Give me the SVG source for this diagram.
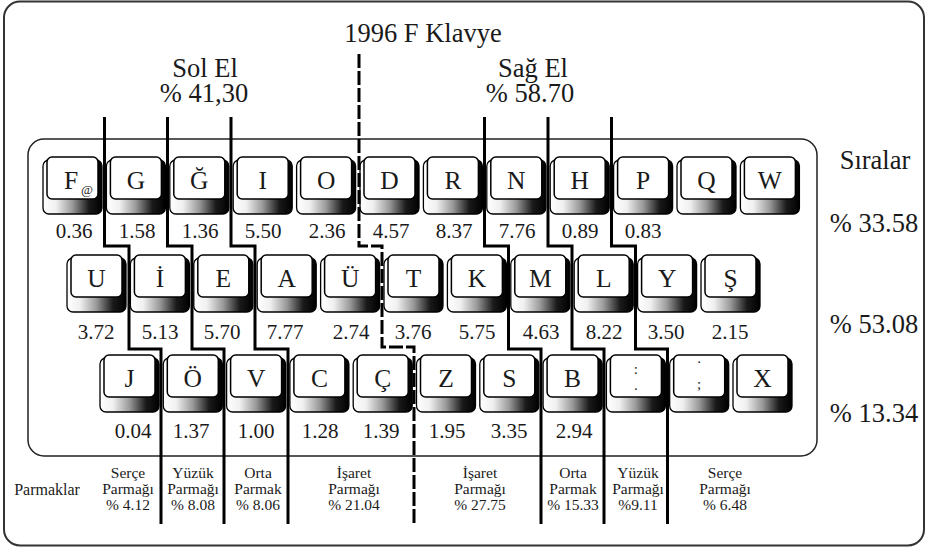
<svg xmlns="http://www.w3.org/2000/svg" width="929" height="549" viewBox="0 0 929 549">
<defs>
<linearGradient id="skirt" x1="0" y1="0" x2="1" y2="0">
<stop offset="0" stop-color="#fff"/>
<stop offset="0.22" stop-color="#f0f0f0"/>
<stop offset="0.5" stop-color="#999"/>
<stop offset="0.78" stop-color="#1a1a1a"/>
<stop offset="1" stop-color="#000"/>
</linearGradient>
<g id="cap">
<rect x="0" y="3" width="59" height="54" rx="6" fill="url(#skirt)" stroke="#000" stroke-width="1.3"/>
<rect x="4" y="0" width="51" height="42" rx="5" fill="#fff" stroke="#000" stroke-width="1.5"/>
</g>
</defs>
<style>
text{fill:#1a1a1a}
.k{font-size:25.5px;text-anchor:middle}
.n{font-size:21px;text-anchor:middle}
.h{font-size:26.5px;text-anchor:middle}
.f{font-size:15.5px;text-anchor:middle}
.s{font-size:15px;text-anchor:middle}
.ln{fill:none;stroke:#000;stroke-width:3;stroke-linejoin:miter}
.dash{stroke-dasharray:14 3}
</style>
<rect x="4" y="1.5" width="920" height="544" rx="16" fill="#fff" stroke="#333" stroke-width="2"/>
<rect x="28" y="139" width="789" height="317" rx="16" fill="none" stroke="#222" stroke-width="1.5"/>
<g id="titles">
<text font-family="Liberation Serif" class="h" x="423" y="42">1996 F Klavye</text>
<text font-family="Liberation Serif" class="h" x="205" y="77">Sol El</text>
<text font-family="Liberation Serif" class="h" x="204" y="102">% 41,30</text>
<text font-family="Liberation Serif" class="h" x="533" y="77">Sağ El</text>
<text font-family="Liberation Serif" class="h" x="530" y="102">% 58.70</text>
<text font-family="Liberation Serif" class="h" x="875" y="169">Sıralar</text>
<text font-family="Liberation Serif" class="h" x="874" y="232">% 33.58</text>
<text font-family="Liberation Serif" class="h" x="874" y="333">% 53.08</text>
<text font-family="Liberation Serif" class="h" x="874" y="422">% 13.34</text>
</g>

<g id="row1">
<g id="k-F" transform="translate(43,157)"><use href="#cap"/><text font-family="Liberation Serif" class="k" x="28" y="31.5">F</text><text font-family="Liberation Serif" x="44" y="37" style="font-size:13px;text-anchor:middle">@</text></g>
<g id="k-G" transform="translate(106.4,157)"><use href="#cap"/><text font-family="Liberation Serif" class="k" x="29.5" y="31.5">G</text></g>
<g id="k-Gb" transform="translate(169.8,157)"><use href="#cap"/><text font-family="Liberation Serif" class="k" x="29.5" y="31.5">Ğ</text></g>
<g id="k-I" transform="translate(233.2,157)"><use href="#cap"/><text font-family="Liberation Serif" class="k" x="29.5" y="31.5">I</text></g>
<g id="k-O" transform="translate(296.6,157)"><use href="#cap"/><text font-family="Liberation Serif" class="k" x="29.5" y="31.5">O</text></g>
<g id="k-D" transform="translate(360,157)"><use href="#cap"/><text font-family="Liberation Serif" class="k" x="29.5" y="31.5">D</text></g>
<g id="k-R" transform="translate(423.4,157)"><use href="#cap"/><text font-family="Liberation Serif" class="k" x="29.5" y="31.5">R</text></g>
<g id="k-N" transform="translate(486.8,157)"><use href="#cap"/><text font-family="Liberation Serif" class="k" x="29.5" y="31.5">N</text></g>
<g id="k-H" transform="translate(550.2,157)"><use href="#cap"/><text font-family="Liberation Serif" class="k" x="29.5" y="31.5">H</text></g>
<g id="k-P" transform="translate(613.6,157)"><use href="#cap"/><text font-family="Liberation Serif" class="k" x="29.5" y="31.5">P</text></g>
<g id="k-Q" transform="translate(677,157)"><use href="#cap"/><text font-family="Liberation Serif" class="k" x="29.5" y="31.5">Q</text></g>
<g id="k-W" transform="translate(740.4,157)"><use href="#cap"/><text font-family="Liberation Serif" class="k" x="29.5" y="31.5">W</text></g>
</g>

<g id="row2">
<g id="k-U" transform="translate(67,255)"><use href="#cap"/><text font-family="Liberation Serif" class="k" x="29.5" y="31.5">U</text></g>
<g id="k-Id" transform="translate(130.4,255)"><use href="#cap"/><text font-family="Liberation Serif" class="k" x="29.5" y="31.5">İ</text></g>
<g id="k-E" transform="translate(193.8,255)"><use href="#cap"/><text font-family="Liberation Serif" class="k" x="29.5" y="31.5">E</text></g>
<g id="k-A" transform="translate(257.2,255)"><use href="#cap"/><text font-family="Liberation Serif" class="k" x="29.5" y="31.5">A</text></g>
<g id="k-Uu" transform="translate(320.6,255)"><use href="#cap"/><text font-family="Liberation Serif" class="k" x="29.5" y="31.5">Ü</text></g>
<g id="k-T" transform="translate(384,255)"><use href="#cap"/><text font-family="Liberation Serif" class="k" x="29.5" y="31.5">T</text></g>
<g id="k-K" transform="translate(447.4,255)"><use href="#cap"/><text font-family="Liberation Serif" class="k" x="29.5" y="31.5">K</text></g>
<g id="k-M" transform="translate(510.8,255)"><use href="#cap"/><text font-family="Liberation Serif" class="k" x="29.5" y="31.5">M</text></g>
<g id="k-L" transform="translate(574.2,255)"><use href="#cap"/><text font-family="Liberation Serif" class="k" x="29.5" y="31.5">L</text></g>
<g id="k-Y" transform="translate(637.6,255)"><use href="#cap"/><text font-family="Liberation Serif" class="k" x="29.5" y="31.5">Y</text></g>
<g id="k-S2" transform="translate(701,255)"><use href="#cap"/><text font-family="Liberation Serif" class="k" x="29.5" y="31.5">Ş</text></g>
</g>

<g id="row3">
<g id="k-J" transform="translate(100,355)"><use href="#cap"/><text font-family="Liberation Serif" class="k" x="29.5" y="31.5">J</text></g>
<g id="k-Oo" transform="translate(163.3,355)"><use href="#cap"/><text font-family="Liberation Serif" class="k" x="29.5" y="31.5">Ö</text></g>
<g id="k-V" transform="translate(226.6,355)"><use href="#cap"/><text font-family="Liberation Serif" class="k" x="29.5" y="31.5">V</text></g>
<g id="k-C" transform="translate(289.9,355)"><use href="#cap"/><text font-family="Liberation Serif" class="k" x="29.5" y="31.5">C</text></g>
<g id="k-Cc" transform="translate(353.2,355)"><use href="#cap"/><text font-family="Liberation Serif" class="k" x="29.5" y="31.5">Ç</text></g>
<g id="k-Z" transform="translate(416.5,355)"><use href="#cap"/><text font-family="Liberation Serif" class="k" x="29.5" y="31.5">Z</text></g>
<g id="k-S" transform="translate(479.8,355)"><use href="#cap"/><text font-family="Liberation Serif" class="k" x="29.5" y="31.5">S</text></g>
<g id="k-B" transform="translate(543.1,355)"><use href="#cap"/><text font-family="Liberation Serif" class="k" x="29.5" y="31.5">B</text></g>
<g id="k-colon" transform="translate(606.4,355)"><use href="#cap"/><text font-family="Liberation Serif" class="s" x="29.5" y="19">:</text><text font-family="Liberation Serif" class="s" x="29.5" y="35">.</text></g>
<g id="k-semi" transform="translate(669.7,355)"><use href="#cap"/><text font-family="Liberation Serif" class="s" x="29.5" y="8">.</text><text font-family="Liberation Serif" class="s" x="29.5" y="34">;</text></g>
<g id="k-X" transform="translate(733,355)"><use href="#cap"/><text font-family="Liberation Serif" class="k" x="29.5" y="31.5">X</text></g>
</g>

<g id="values">
<text font-family="Liberation Serif" class="n" x="74" y="238">0.36</text>
<text font-family="Liberation Serif" class="n" x="137" y="238">1.58</text>
<text font-family="Liberation Serif" class="n" x="200" y="238">1.36</text>
<text font-family="Liberation Serif" class="n" x="263" y="238">5.50</text>
<text font-family="Liberation Serif" class="n" x="327" y="238">2.36</text>
<text font-family="Liberation Serif" class="n" x="391" y="238">4.57</text>
<text font-family="Liberation Serif" class="n" x="454" y="238">8.37</text>
<text font-family="Liberation Serif" class="n" x="517" y="238">7.76</text>
<text font-family="Liberation Serif" class="n" x="580" y="238">0.89</text>
<text font-family="Liberation Serif" class="n" x="643" y="238">0.83</text>
<text font-family="Liberation Serif" class="n" x="96" y="339">3.72</text>
<text font-family="Liberation Serif" class="n" x="160" y="339">5.13</text>
<text font-family="Liberation Serif" class="n" x="222" y="339">5.70</text>
<text font-family="Liberation Serif" class="n" x="285" y="339">7.77</text>
<text font-family="Liberation Serif" class="n" x="351" y="339">2.74</text>
<text font-family="Liberation Serif" class="n" x="413" y="339">3.76</text>
<text font-family="Liberation Serif" class="n" x="477" y="339">5.75</text>
<text font-family="Liberation Serif" class="n" x="541" y="339">4.63</text>
<text font-family="Liberation Serif" class="n" x="604" y="339">8.22</text>
<text font-family="Liberation Serif" class="n" x="666" y="339">3.50</text>
<text font-family="Liberation Serif" class="n" x="730" y="339">2.15</text>
<text font-family="Liberation Serif" class="n" x="133" y="438">0.04</text>
<text font-family="Liberation Serif" class="n" x="191" y="438">1.37</text>
<text font-family="Liberation Serif" class="n" x="256" y="438">1.00</text>
<text font-family="Liberation Serif" class="n" x="320" y="438">1.28</text>
<text font-family="Liberation Serif" class="n" x="381" y="438">1.39</text>
<text font-family="Liberation Serif" class="n" x="447" y="438">1.95</text>
<text font-family="Liberation Serif" class="n" x="509" y="438">3.35</text>
<text font-family="Liberation Serif" class="n" x="574" y="438">2.94</text>
</g>

<g id="fingers">
<text font-family="Liberation Serif" class="f" x="47" y="495" style="font-size:16px">Parmaklar</text>
<text font-family="Liberation Serif" class="f" x="128" y="478">Serçe</text><text font-family="Liberation Serif" class="f" x="128" y="494">Parmağı</text><text font-family="Liberation Serif" class="f" x="128" y="510">% 4.12</text>
<text font-family="Liberation Serif" class="f" x="193" y="478">Yüzük</text><text font-family="Liberation Serif" class="f" x="193" y="494">Parmağı</text><text font-family="Liberation Serif" class="f" x="193" y="510">% 8.08</text>
<text font-family="Liberation Serif" class="f" x="258" y="478">Orta</text><text font-family="Liberation Serif" class="f" x="258" y="494">Parmak</text><text font-family="Liberation Serif" class="f" x="258" y="510">% 8.06</text>
<text font-family="Liberation Serif" class="f" x="354" y="478">İşaret</text><text font-family="Liberation Serif" class="f" x="354" y="494">Parmağı</text><text font-family="Liberation Serif" class="f" x="354" y="510">% 21.04</text>
<text font-family="Liberation Serif" class="f" x="480" y="478">İşaret</text><text font-family="Liberation Serif" class="f" x="480" y="494">Parmağı</text><text font-family="Liberation Serif" class="f" x="480" y="510">% 27.75</text>
<text font-family="Liberation Serif" class="f" x="573" y="478">Orta</text><text font-family="Liberation Serif" class="f" x="573" y="494">Parmak</text><text font-family="Liberation Serif" class="f" x="573" y="510">% 15.33</text>
<text font-family="Liberation Serif" class="f" x="638" y="478">Yüzük</text><text font-family="Liberation Serif" class="f" x="638" y="494">Parmağı</text><text font-family="Liberation Serif" class="f" x="638" y="510">%9.11</text>
<text font-family="Liberation Serif" class="f" x="725" y="478">Serçe</text><text font-family="Liberation Serif" class="f" x="725" y="494">Parmağı</text><text font-family="Liberation Serif" class="f" x="725" y="510">% 6.48</text>
</g>

<g id="connectors">
<path class="ln" d="M104.5,117 V246 H129 V349 H161 V524"/>
<path class="ln" d="M167.5,117 V246 H192 V349 H224 V524"/>
<path class="ln" d="M231,117 V246 H255 V349 H288 V524"/>
<path class="ln dash" d="M359,54 V246 H382 V347 H414 V524"/>
<path class="ln" d="M484.5,117 V246 H508.5 V349 H541 V524"/>
<path class="ln" d="M548,117 V246 H572 V349 H604 V524"/>
<path class="ln" d="M611.5,117 V246 H635.5 V349 H667.5 V524"/>
</g>
</svg>
